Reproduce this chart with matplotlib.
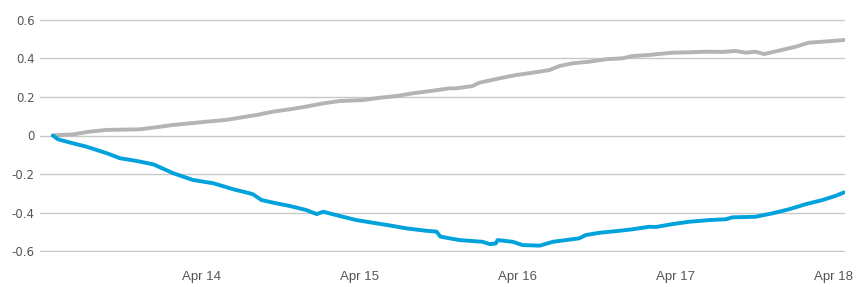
import matplotlib
matplotlib.use("Agg")
import matplotlib.pyplot as plt
import matplotlib.dates as mdates
import pandas as pd
import numpy as np

# Hours after Apr 13 00:00 and values
blue_hours = [1.4, 2.2, 4.5, 6.5, 9.6, 11.6, 14.1, 16.7, 19.7, 22.7, 25.8, 28.8, 31.3,
              31.8, 33.1, 34.9, 37.4, 39.9, 41.5, 42.5, 45.0, 47.5, 50.0, 52.6, 55.1,
              58.2, 59.7, 60.3, 61.7, 63.2, 66.7, 67.8, 68.7, 69.0, 71.3, 72.8, 75.4,
              77.4, 79.4, 81.4, 82.4, 84.5, 87.5, 89.5, 92.0, 93.1, 95.6, 98.1, 101.2,
              103.7, 104.7, 108.2, 110.8, 113.3, 115.8, 118.4, 120.4, 121.7]
blue_values = [0.0, -0.020, -0.041, -0.058, -0.092, -0.118, -0.132, -0.150, -0.196, -0.231,
               -0.248, -0.279, -0.300, -0.305, -0.335, -0.349, -0.366, -0.387, -0.408,
               -0.396, -0.418, -0.439, -0.453, -0.467, -0.482, -0.495, -0.499, -0.525,
               -0.534, -0.543, -0.552, -0.564, -0.561, -0.543, -0.552, -0.569, -0.572,
               -0.552, -0.543, -0.534, -0.517, -0.505, -0.495, -0.487, -0.474, -0.475,
               -0.460, -0.448, -0.439, -0.435, -0.425, -0.422, -0.404, -0.383, -0.357,
               -0.335, -0.313, -0.295]

gray_hours = [1.4, 4.5, 7.0, 9.6, 14.6, 17.2, 19.7, 22.2, 24.8, 27.8, 31.3, 32.3, 34.9,
              37.4, 39.9, 42.5, 45.0, 48.5, 51.1, 53.6, 56.1, 59.2, 61.7, 62.7, 65.2,
              66.2, 69.3, 71.8, 74.3, 76.9, 78.4, 80.4, 82.9, 85.5, 88.0, 89.5, 92.0,
              93.1, 95.6, 98.1, 100.7, 103.2, 105.2, 106.7, 108.2, 109.5, 111.8, 114.3,
              116.3, 118.4, 119.9, 121.7]
gray_values = [0.0, 0.006, 0.020, 0.029, 0.032, 0.043, 0.055, 0.063, 0.072, 0.081, 0.101,
               0.106, 0.124, 0.136, 0.150, 0.167, 0.179, 0.184, 0.196, 0.205, 0.219,
               0.233, 0.245, 0.245, 0.257, 0.274, 0.297, 0.314, 0.326, 0.340, 0.361,
               0.375, 0.383, 0.396, 0.401, 0.413, 0.418, 0.422, 0.430, 0.432, 0.435,
               0.434, 0.439, 0.430, 0.435, 0.423, 0.441, 0.461, 0.482, 0.487, 0.491,
               0.496]

y_ticks = [-0.6, -0.4, -0.2, 0, 0.2, 0.4, 0.6]
y_tick_labels = ["-0.6", "-0.4", "-0.2", "0", "0.2", "0.4", "0.6"]

base = pd.Timestamp("2024-04-13 00:00")
blue_t = base + pd.to_timedelta(blue_hours, unit="h")
gray_t = base + pd.to_timedelta(gray_hours, unit="h")

W, H = 859, 287
fig = plt.figure(figsize=(W / 100, H / 100), dpi=100)
ax = fig.add_axes([40 / W, 1 - 252 / H, (845 - 40) / W, (252 - 19) / H])

ax.plot(gray_t, gray_values, color="#b4b4b4", lw=2.8, solid_capstyle="round", zorder=3)
ax.plot(blue_t, blue_values, color="#00a2dc", lw=2.8, solid_capstyle="round", zorder=4)

ax.set_ylim(-0.605, 0.605)
ax.set_xlim(base + pd.Timedelta(hours=-0.55), base + pd.Timedelta(hours=121.8))
ax.set_yticks(y_ticks)
ax.set_yticklabels(y_tick_labels)
ax.yaxis.grid(True, color="#c8c8c8", lw=1.0)
ax.set_axisbelow(True)
for s in ax.spines.values():
    s.set_visible(False)

ax.xaxis.set_major_locator(mdates.DayLocator(bymonthday=[14, 15, 16, 17, 18]))
ax.xaxis.set_major_formatter(mdates.DateFormatter("%b %d"))
ax.tick_params(axis="both", length=0)
ax.tick_params(axis="y", pad=4, labelsize=8.5, labelcolor="#555555")
ax.tick_params(axis="x", pad=14, labelsize=9.5, labelcolor="#555555")
for lbl in ax.get_yticklabels():
    lbl.set_fontfamily("DejaVu Sans")
for lbl in ax.get_xticklabels():
    lbl.set_fontfamily("Liberation Sans")

fig.savefig("out.png", dpi=100)
